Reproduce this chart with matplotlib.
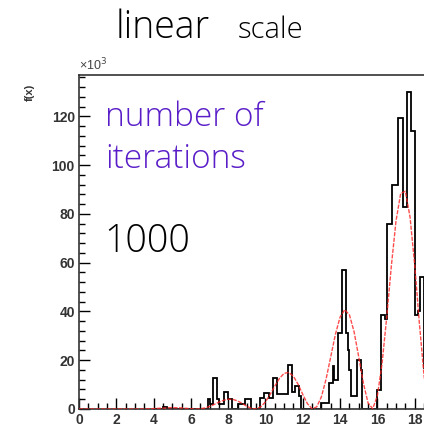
import matplotlib.pyplot as plt
import numpy as np
from matplotlib.ticker import MultipleLocator

# histogram: 0.1 wide bins starting at HIST_START, heights in units of 10^3
HIST_START = 4.0
BIN_WIDTH = 0.1
hist_counts = (
    [0, 0, 0, 0, 0, 0.8, 0.8]
    + [0] * 22
    + [4, 2, 2, 12.6, 12.6, 4, 2, 2, 2, 6.8, 6.8, 4, 4, 0, 0, 0,
       2, 2, 2, 2, 4, 4, 4, 0, 0, 0, 0, 0]
    + [4.5, 4.5, 6.7, 6.7, 6.7, 4.5, 4.5, 12.7, 12.7, 6, 6, 6, 6, 6, 6,
       18, 18, 7, 7, 9.5, 9.5, 5.5, 0]
    + [0] * 10
    + [2.5, 2.5, 2.5, 2.5, 10.5, 10.5, 17.5, 12, 12, 31, 31, 57, 57, 31,
       24, 16, 5.5, 5.5, 5.5, 20, 20, 16, 0]
    + [0] * 7
    + [7.8, 7.8, 38.5, 38.5, 37, 76, 76, 76, 92, 92, 92, 119.5, 119.5,
       119.5, 83, 83, 130, 130, 114, 114, 38.5, 38.5, 40, 54, 54, 17, 17]
)

# fitted curve (x, value in 10^3)
curve_x = [0, 1, 2, 3, 3.5, 4, 4.5, 5, 5.5, 5.75, 6, 6.25, 6.5, 6.75,
           7, 7.25, 7.5, 7.75, 8, 8.25, 8.5, 8.75, 9, 9.25, 9.5, 9.75,
           10, 10.25, 10.5, 10.75, 11, 11.25, 11.5, 11.75, 12, 12.25,
           12.5, 12.75, 13, 13.25, 13.5, 13.75, 14, 14.25, 14.5, 14.75,
           15, 15.25, 15.5, 15.75, 16, 16.25, 16.5, 16.75, 17, 17.25,
           17.5, 17.75, 18, 18.25, 18.5, 18.75]
curve_y = [0, 0, 0.01, 0, 0.02, 0.15, 0.39, 0.57, 0.45, 0.28, 0.10, 0.0,
           0.08, 0.42, 1.04, 1.87, 2.79, 3.57, 4.01, 3.94, 3.33, 2.28,
           1.11, 0.22, 0.05, 0.92, 2.96, 5.96, 9.41, 12.57, 14.64, 15.0,
           13.41, 10.13, 5.97, 2.17, 0.11, 0.88, 5.04, 12.3, 21.45, 30.64,
           37.7, 40.72, 38.64, 31.72, 21.41, 10.62, 2.47, 0.11, 5.43,
           18.55, 37.55, 58.71, 77.18, 88.46, 89.29, 78.81, 59.21, 35.4,
           13.84, 1.22]

Y_TICKS = [0, 20, 40, 60, 80, 100, 120]
X_TICKS = [0, 2, 4, 6, 8, 10, 12, 14, 16, 18]

TEXT_FONT = ['Open Sans', 'DejaVu Sans']


def main() -> None:
    plt.rcParams['font.family'] = ['Liberation Sans', 'DejaVu Sans']
    fig = plt.figure(figsize=(4.24, 4.37), dpi=100)
    ax = fig.add_axes([79 / 424, 28 / 437, 345 / 424, 334 / 437])

    counts = np.asarray(hist_counts, dtype=float)
    edges = HIST_START + BIN_WIDTH * np.arange(len(counts) + 1)
    ax.stairs(counts, edges, color='black', linewidth=1.3, baseline=0, zorder=2)
    ax.plot(curve_x, curve_y, color='#ff2020', linewidth=1.0,
            linestyle=(0, (3, 1)), alpha=0.8, zorder=3)

    ax.set_xlim(0, 18.5)
    ax.set_ylim(0, 137)
    ax.set_xticks(X_TICKS)
    ax.set_yticks(Y_TICKS)
    ax.xaxis.set_minor_locator(MultipleLocator(0.5))
    ax.yaxis.set_minor_locator(MultipleLocator(4))
    ax.tick_params(which='major', direction='in', length=8, width=1,
                   labelsize=10, pad=3)
    ax.tick_params(which='minor', direction='in', length=4, width=1)
    for label in ax.get_xticklabels() + ax.get_yticklabels():
        label.set_fontweight('bold')
        label.set_color('#333333')
    ax.spines['right'].set_visible(False)
    for side in ('left', 'top', 'bottom'):
        ax.spines[side].set_linewidth(1.2)
        ax.spines[side].set_color('#333333')

    ax.text(0.0, 1.005, '×10$^3$', transform=ax.transAxes, fontsize=9,
            color='#444444', ha='left', va='bottom')
    fig.text(30 / 424, 1 - 92 / 437, 'f(x)', rotation=90, fontsize=8,
             fontweight='bold', ha='center', va='center', color='#333333')

    fig.text(105 / 424, 1 - 126 / 437, 'number of', family=TEXT_FONT,
             fontweight='light', fontsize=24, color='#5a1ec8',
             ha='left', va='baseline')
    fig.text(105 / 424, 1 - 168 / 437, 'iterations', family=TEXT_FONT,
             fontweight='light', fontsize=24, color='#5a1ec8',
             ha='left', va='baseline')
    fig.text(104 / 424, 1 - 252 / 437, '1000', family=TEXT_FONT,
             fontweight='light', fontsize=27, color='black',
             ha='left', va='baseline')

    fig.text(116 / 424, 1 - 38 / 437, 'linear', family=TEXT_FONT,
             fontweight='light', fontsize=27, color='black',
             ha='left', va='baseline')
    fig.text(238 / 424, 1 - 38 / 437, 'scale', family=TEXT_FONT,
             fontweight='light', fontsize=21, color='black',
             ha='left', va='baseline')

    fig.savefig('out.png', dpi=100)


if __name__ == '__main__':
    main()
